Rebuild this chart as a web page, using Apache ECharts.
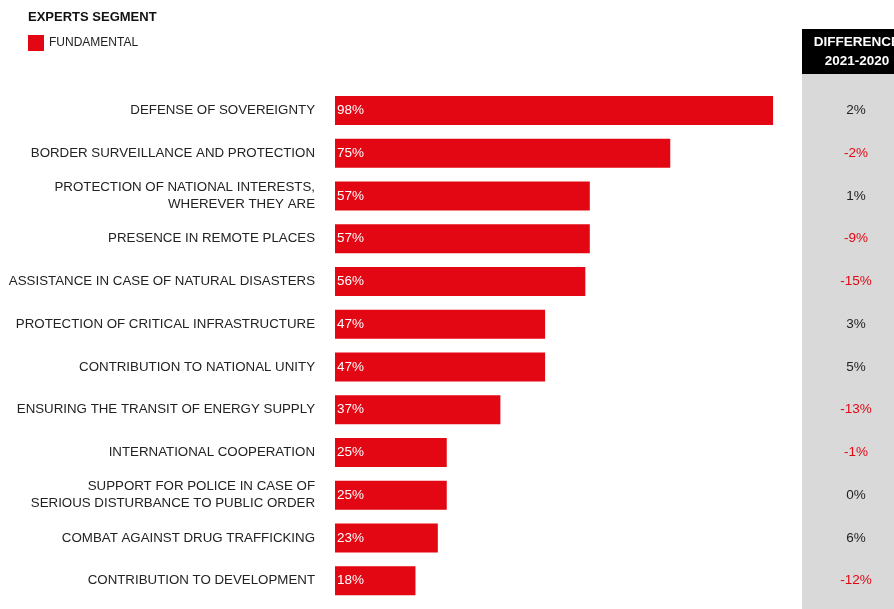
<!DOCTYPE html>
<html>
<head>
<meta charset="utf-8">
<script src="https://cdn.jsdelivr.net/npm/echarts@6/dist/echarts.min.js"></script>
<style>
  html, body { margin: 0; padding: 0; background: #fff; }
  #chart { width: 894px; height: 609px; }
</style>
</head>
<body>
<div id="chart"></div>
<script>
const categories = [
  'DEFENSE OF SOVEREIGNTY',
  'BORDER SURVEILLANCE AND PROTECTION',
  'PROTECTION OF NATIONAL INTERESTS,\nWHEREVER THEY ARE',
  'PRESENCE IN REMOTE PLACES',
  'ASSISTANCE IN CASE OF NATURAL DISASTERS',
  'PROTECTION OF CRITICAL INFRASTRUCTURE',
  'CONTRIBUTION TO NATIONAL UNITY',
  'ENSURING THE TRANSIT OF ENERGY SUPPLY',
  'INTERNATIONAL COOPERATION',
  'SUPPORT FOR POLICE IN CASE OF\nSERIOUS DISTURBANCE TO PUBLIC ORDER',
  'COMBAT AGAINST DRUG TRAFFICKING',
  'CONTRIBUTION TO DEVELOPMENT'
];
const fundamental = [98, 75, 57, 57, 56, 47, 47, 37, 25, 25, 23, 18];
const difference = [2, -2, 1, -9, -15, 3, 5, -13, -1, 0, 6, -12];

const RED = '#e30613';
const FONT = '"Liberation Sans Narrow", "Arial Narrow", "Liberation Sans", Arial, sans-serif';

const chart = echarts.init(document.getElementById('chart'), null, { renderer: 'canvas' });

chart.setOption({
  animation: false,
  textStyle: { fontFamily: FONT },
  graphic: [
    // grey column behind the year-on-year differences
    { type: 'rect', z: -10, shape: { x: 802, y: 74, width: 100, height: 540 }, style: { fill: '#d9d9d9' } },
    // black header cell
    { type: 'rect', z: -10, shape: { x: 802, y: 29, width: 110, height: 45 }, style: { fill: '#000' } },
    { type: 'text', x: 857, y: 33, style: { text: 'DIFFERENCE\n2021-2020', align: 'center', fill: '#fff', font: 'bold 13.5px ' + FONT, lineHeight: 19 } },
    { type: 'text', x: 28, y: 11, style: { text: 'EXPERTS SEGMENT', fill: '#111', font: 'bold 13px ' + FONT } }
  ],
  legend: {
    left: 28, top: 35, padding: 0,
    itemWidth: 16, itemHeight: 16, itemGap: 10,
    icon: 'rect',
    textStyle: { fontFamily: FONT, fontSize: 12, color: '#222', padding: [2, 0, 0, 0] },
    data: ['FUNDAMENTAL']
  },
  grid: { left: 335, right: 112, top: 89, bottom: 7, containLabel: false, outerBoundsMode: 'none' },
  xAxis: { type: 'value', min: 0, max: 100, show: false },
  yAxis: [
    {
      type: 'category', data: categories, inverse: true,
      axisLine: { show: false }, axisTick: { show: false },
      axisLabel: { margin: 20, fontSize: 13.3, color: '#222', lineHeight: 17, fontFamily: FONT }
    },
    {
      type: 'category', data: difference, inverse: true, position: 'right',
      axisLine: { show: false }, axisTick: { show: false },
      axisLabel: {
        margin: 74, align: 'center', fontSize: 13.5, fontFamily: FONT,
        formatter: v => v + '%',
        color: (v) => Number(v) < 0 ? RED : '#222'
      }
    }
  ],
  series: [{
    name: 'FUNDAMENTAL', type: 'bar', data: fundamental,
    barWidth: 29,
    itemStyle: { color: RED },
    label: { show: true, position: 'insideLeft', distance: 2, color: '#fff', fontSize: 13.5, fontFamily: FONT, formatter: '{c}%' }
  }]
});
</script>
</body>
</html>
